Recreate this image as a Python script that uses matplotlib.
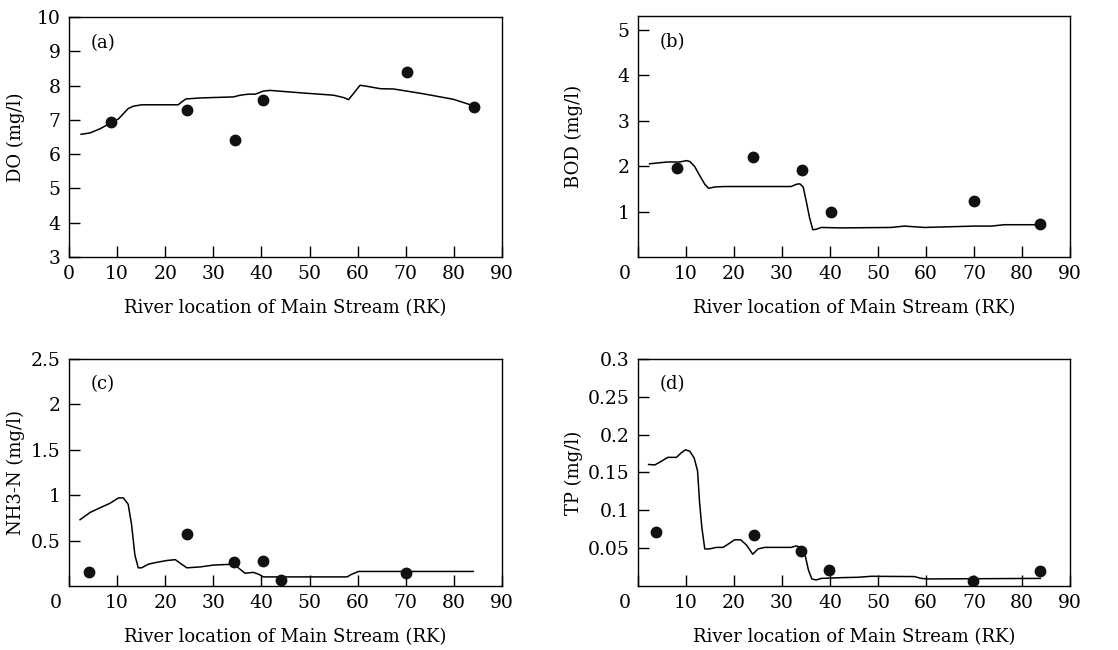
import matplotlib
matplotlib.use("Agg")
import matplotlib.pyplot as plt

plt.rcParams['font.family'] = ['DejaVu Serif']
plt.rcParams['mathtext.fontset'] = 'dejavuserif'

# ---- data ----
xticks = [0, 10, 20, 30, 40, 50, 60, 70, 80, 90]
xlabel = "River location of Main Stream (RK)"

# (a) DO
do_obs_x = [8.7, 24.5, 34.6, 40.4, 70.3, 84.1]
do_obs_y = [6.94, 7.28, 6.40, 7.57, 8.39, 7.39]
do_sim_x = [2.5, 4.4, 6.45, 8.7, 10.3, 12.3, 13.4, 15.1, 22.7, 23.4, 24.3, 27.3, 34.2, 35.6, 37.3,
            38.7, 40.4, 41.8, 48.1, 55.0, 57.1, 58.1, 59.2, 60.5, 61.9, 64.7, 67.5, 70.2, 73.7, 77.2, 79.9, 84.1]
do_sim_y = [6.58, 6.62, 6.74, 6.91, 7.03, 7.33, 7.40, 7.44, 7.44, 7.52, 7.61, 7.64, 7.67, 7.72, 7.75,
            7.75, 7.84, 7.86, 7.79, 7.72, 7.65, 7.59, 7.78, 8.01, 7.98, 7.91, 7.90, 7.84, 7.76, 7.67, 7.60, 7.41]

# (b) BOD
bod_obs_x = [8.1, 23.9, 34.1, 40.1, 69.9, 83.8]
bod_obs_y = [1.95, 2.21, 1.92, 0.98, 1.24, 0.72]
bod_sim_x = [2.4, 4.2, 6.2, 8.7, 10.1, 10.8, 11.8, 12.8, 13.9, 14.7, 16.0, 18.0, 31.9, 33.0, 33.7, 34.4,
             35.0, 35.7, 36.4, 37.1, 38.2, 42.3, 52.7, 55.5, 59.7, 70.1, 73.6, 76.3, 83.8]
bod_sim_y = [2.05, 2.07, 2.09, 2.09, 2.12, 2.10, 1.99, 1.80, 1.60, 1.51, 1.54, 1.55, 1.55, 1.60, 1.61, 1.54,
             1.25, 0.88, 0.60, 0.61, 0.65, 0.64, 0.65, 0.68, 0.65, 0.68, 0.68, 0.71, 0.71]

# (c) NH3-N
nh3_obs_x = [4.1, 24.5, 34.3, 40.4, 44.1, 70.0]
nh3_obs_y = [0.15, 0.57, 0.26, 0.27, 0.07, 0.14]
nh3_sim_x = [2.3, 4.4, 6.4, 8.5, 10.3, 11.3, 12.3, 13.0, 13.7, 14.4, 15.1, 16.5, 18.2, 20.3, 22.1, 23.4,
             24.5, 27.3, 30.0, 34.2, 35.2, 36.6, 38.3, 39.4, 40.4, 57.8, 58.8, 60.2, 84.0]
nh3_sim_y = [0.73, 0.81, 0.86, 0.91, 0.97, 0.97, 0.90, 0.68, 0.34, 0.20, 0.20, 0.24, 0.26, 0.28, 0.29, 0.24,
             0.20, 0.21, 0.23, 0.24, 0.20, 0.14, 0.15, 0.13, 0.10, 0.10, 0.13, 0.16, 0.16]

# (d) TP
tp_obs_x = [3.8, 24.1, 33.9, 39.8, 69.8, 83.8]
tp_obs_y = [0.0708, 0.0673, 0.0456, 0.0208, 0.0066, 0.0195]
tp_sim_x = [2.2, 3.5, 4.9, 6.2, 8.0, 9.0, 9.9, 10.8, 11.7, 12.4, 12.8, 13.3, 13.9, 14.9, 16.3, 17.7, 18.7,
            20.1, 21.4, 22.6, 23.9, 25.0, 26.4, 28.5, 31.9, 33.0, 34.0, 34.8, 35.5, 36.2, 37.1, 38.2,
            42.3, 45.8, 48.6, 57.6, 59.0, 60.4, 83.8]
tp_sim_y = [0.1606, 0.160, 0.165, 0.170, 0.170, 0.176, 0.180, 0.178, 0.169, 0.152, 0.112, 0.077, 0.049,
            0.049, 0.051, 0.051, 0.055, 0.061, 0.061, 0.054, 0.042, 0.049, 0.051, 0.051, 0.051, 0.053,
            0.050, 0.041, 0.021, 0.0093, 0.008, 0.010, 0.011, 0.0115, 0.0128, 0.0124, 0.010, 0.0093, 0.010]

panels = [
    dict(tag="(a)", ylabel="DO (mg/l)", sx=do_sim_x, sy=do_sim_y, ox=do_obs_x, oy=do_obs_y,
         ylim=(3, 10), yticks=[3, 4, 5, 6, 7, 8, 9, 10], ylabels=["3", "4", "5", "6", "7", "8", "9", "10"],
         zero_shift=False, ylx=-0.102, pos=[0.0617, 0.6046, 0.3873, 0.3692]),
    dict(tag="(b)", ylabel="BOD (mg/l)", sx=bod_sim_x, sy=bod_sim_y, ox=bod_obs_x, oy=bod_obs_y,
         ylim=(0, 5.3), yticks=[1, 2, 3, 4, 5], ylabels=["1", "2", "3", "4", "5"],
         zero_shift=True, ylx=-0.127, pos=[0.5707, 0.6046, 0.3864, 0.3708]),
    dict(tag="(c)", ylabel="NH3-N (mg/l)", sx=nh3_sim_x, sy=nh3_sim_y, ox=nh3_obs_x, oy=nh3_obs_y,
         ylim=(0, 2.5), yticks=[0.5, 1, 1.5, 2, 2.5], ylabels=["0.5", "1", "1.5", "2", "2.5"],
         zero_shift=True, ylx=-0.102, pos=[0.0617, 0.0985, 0.3873, 0.3492]),
    dict(tag="(d)", ylabel="TP (mg/l)", sx=tp_sim_x, sy=tp_sim_y, ox=tp_obs_x, oy=tp_obs_y,
         ylim=(0, 0.3), yticks=[0.05, 0.1, 0.15, 0.2, 0.25, 0.3],
         ylabels=["0.05", "0.1", "0.15", "0.2", "0.25", "0.3"],
         zero_shift=True, ylx=-0.127, pos=[0.5707, 0.0985, 0.3864, 0.3492]),
]

fig = plt.figure(figsize=(11.18, 6.5), dpi=100)
fs = 13.5
pad_pt = 6

for p in panels:
    ax = fig.add_axes(p["pos"])
    ax.plot(p["sx"], p["sy"], color="black", lw=1.1)
    ax.plot(p["ox"], p["oy"], "o", color="#111111", ms=7.5, mec="#111111")
    ax.set_xlim(0, 90)
    ax.set_ylim(*p["ylim"])
    ax.set_xticks(xticks)
    if p["zero_shift"]:
        ax.set_xticklabels([""] + [str(t) for t in xticks[1:]])
        ax.annotate("0", xy=(0, 0), xycoords="axes fraction", xytext=(-9.5, -pad_pt),
                    textcoords="offset points", ha="center", va="top", fontsize=fs)
    else:
        ax.set_xticklabels([str(t) for t in xticks])
    ax.set_yticks(p["yticks"])
    ax.set_yticklabels(p["ylabels"])
    ax.tick_params(direction="in", length=8, width=1.0, labelsize=fs, pad=pad_pt)
    for s in ax.spines.values():
        s.set_linewidth(1.0)
    ax.set_xlabel(xlabel, fontsize=13, labelpad=11)
    ax.set_ylabel(p["ylabel"], fontsize=13)
    ax.yaxis.set_label_coords(p["ylx"], 0.5)
    ax.text(0.05, 0.89, p["tag"], transform=ax.transAxes, fontsize=13, ha="left", va="center")

fig.savefig("out.png", dpi=100)
